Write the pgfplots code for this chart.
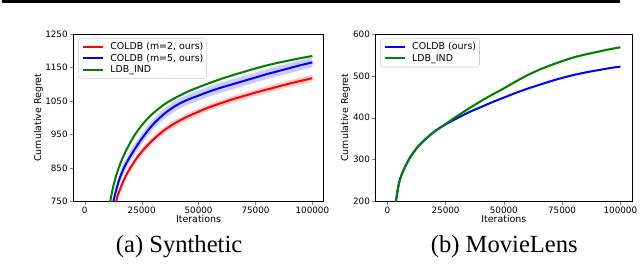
\documentclass[border=0pt]{standalone}
\usepackage{pgfplots}
\pgfplotsset{compat=1.18}
\usepackage{pgfplotstable}
\usepgfplotslibrary{fillbetween}
\usepackage{fontspec}
\setmainfont{Liberation Serif}
\newfontfamily\dv{DejaVu Sans}
\definecolor{mred}{RGB}{255,0,0}
\definecolor{mblue}{RGB}{0,0,255}
\definecolor{mgreen}{RGB}{0,128,0}

% Synthetic
\pgfplotstableread{
x y
10800 736
11200 750
12000 778
13000 808
15000 852
18000 900
22000 949
26000 985
30000 1013
35000 1040
40000 1060
45000 1077
50000 1091
55000 1104
60000 1116
65000 1127
70000 1137
75000 1147
80000 1156
85000 1164
90000 1171
95000 1178
100000 1184
}\synG
\pgfplotstableread{
x y
12100 736
12600 750
13500 776
15000 812
17000 847
20000 885
25000 937
30000 980
35000 1012
40000 1036
45000 1053
50000 1066
55000 1079
60000 1090
65000 1100
70000 1110
75000 1120
80000 1130
85000 1139
90000 1148
95000 1157
100000 1165
}\synB
\pgfplotstableread{
x y
13300 738
13750 750
14500 768
16000 795
18000 826
20000 850
23000 881
26000 906
30000 934
35000 963
40000 985
45000 1003
50000 1018
55000 1032
60000 1044
65000 1055
70000 1065
75000 1075
80000 1084
85000 1093
90000 1102
95000 1110
100000 1118
}\synR
% MovieLens
\pgfplotstableread{
x y
3300 187
3700 200
4300 222
5000 243
6000 262
8000 287
10000 307
13000 330
17000 352
21000 370
25000 384
30000 399
35000 413
40000 425
45000 437
50000 448
55000 459
60000 469
65000 478
70000 487
75000 495
80000 502
85000 508
90000 513
95000 518
100000 522
}\mlB
\pgfplotstableread{
x y
3300 187
3700 200
4300 222
5000 243
6000 262
8000 287
10000 307
13000 330
17000 352
21000 370
25000 385
30000 404
35000 422
40000 439
45000 455
50000 470
55000 486
60000 501
65000 514
70000 525
75000 535
80000 544
85000 551
90000 557
95000 563
100000 568
}\mlG

\pgfplotsset{
  mystyle/.style={
    scale only axis,
    height=126pt,
    xmin=-5000, xmax=105000,
    xtick={0,25000,50000,75000,100000},
    xticklabels={0,25000,50000,75000,100000},
    scaled x ticks=false, scaled y ticks=false,
    tick label style={font=\dv\fontsize{6.6}{8}\selectfont},
    label style={font=\dv\fontsize{7.1}{8.5}\selectfont},
    tick align=outside, major tick length=2.6pt,
    xtick pos=left, ytick pos=left,
    axis line style={line width=0.6pt},
    xticklabel style={inner sep=1.5pt},
    yticklabel style={inner sep=1.5pt},
    legend cell align=left,
    legend style={font=\dv\fontsize{7.1}{8.5}\selectfont, draw=black!20, rounded corners=2pt,
      anchor=north west, inner xsep=2.5pt, inner ysep=3pt, row sep=1.8pt, column sep=5pt,
      nodes={inner sep=0pt, text height=5.3pt, text depth=1.5pt}},
    legend image code/.code={\draw[#1] (0pt,0pt) -- (15pt,0pt);},
  }
}

\begin{document}
\begin{tikzpicture}
\draw[line width=2.3pt, black] (0,198.2pt) -- (465pt,198.2pt);

\begin{axis}[mystyle, name=left,
  at={(54pt,48pt)}, anchor=south west, width=188.25pt,
  ymin=750, ymax=1250, ytick={750,850,950,1050,1150,1250},
  yticklabels={750,850,950,1050,1150,1250},
  xlabel={Iterations}, ylabel={Cumulative Regret},
  xlabel style={at={(axis description cs:0.5,-0.107)}, anchor=center},
  ylabel style={at={(axis description cs:-0.139,0.5)}, anchor=center},
  legend style={at={(0.019,0.974)}},
]
\addplot[name path=ru, draw=none, forget plot, smooth] table[x=x, y expr=\thisrow{y}+10] {\synR};
\addplot[name path=rl, draw=none, forget plot, smooth] table[x=x, y expr=\thisrow{y}-10] {\synR};
\addplot[mred, fill opacity=0.2, forget plot] fill between[of=ru and rl];
\addplot[name path=bu, draw=none, forget plot, smooth] table[x=x, y expr=\thisrow{y}+15] {\synB};
\addplot[name path=bl, draw=none, forget plot, smooth] table[x=x, y expr=\thisrow{y}-15] {\synB};
\addplot[mblue, fill opacity=0.2, forget plot] fill between[of=bu and bl];
\addplot[name path=gu, draw=none, forget plot, smooth] table[x=x, y expr=\thisrow{y}+3] {\synG};
\addplot[name path=gl, draw=none, forget plot, smooth] table[x=x, y expr=\thisrow{y}-3] {\synG};
\addplot[mgreen, fill opacity=0.2, forget plot] fill between[of=gu and gl];
\addplot[mred, line width=1.5pt, smooth] table[x=x,y=y] {\synR};
\addlegendentry{COLDB (m=2, ours)}
\addplot[mblue, line width=1.5pt, smooth] table[x=x,y=y] {\synB};
\addlegendentry{COLDB (m=5, ours)}
\addplot[mgreen, line width=1.5pt, smooth] table[x=x,y=y] {\synG};
\addlegendentry{LDB\textunderscore IND}
\end{axis}

\begin{axis}[mystyle, name=right,
  at={(281.25pt,48pt)}, anchor=south west, width=192.75pt,
  ymin=200, ymax=600, ytick={200,300,400,500,600},
  yticklabels={200,300,400,500,600},
  xlabel={Iterations}, ylabel={Cumulative Regret},
  xlabel style={at={(axis description cs:0.5,-0.107)}, anchor=center},
  ylabel style={at={(axis description cs:-0.117,0.5)}, anchor=center},
  legend style={at={(0.017,0.974)}},
]
\addplot[name path=mbu, draw=none, forget plot, smooth] table[x=x, y expr=\thisrow{y}+2] {\mlB};
\addplot[name path=mbl, draw=none, forget plot, smooth] table[x=x, y expr=\thisrow{y}-2] {\mlB};
\addplot[mblue, fill opacity=0.2, forget plot] fill between[of=mbu and mbl];
\addplot[name path=mgu, draw=none, forget plot, smooth] table[x=x, y expr=\thisrow{y}+3] {\mlG};
\addplot[name path=mgl, draw=none, forget plot, smooth] table[x=x, y expr=\thisrow{y}-3] {\mlG};
\addplot[mgreen, fill opacity=0.2, forget plot] fill between[of=mgu and mgl];
\addplot[mblue, line width=1.5pt, smooth] table[x=x,y=y] {\mlB};
\addlegendentry{COLDB (ours)}
\addplot[mgreen, line width=1.5pt, smooth] table[x=x,y=y] {\mlG};
\addlegendentry{LDB\textunderscore IND}
\end{axis}

\node[anchor=base, font=\fontsize{18.5}{20}\selectfont] at (133.5pt,9.75pt) {(a) Synthetic};
\node[anchor=base, font=\fontsize{18.5}{20}\selectfont] at (378pt,9.75pt) {(b) MovieLens};
\useasboundingbox (0,0) rectangle (480pt,199.5pt);
\end{tikzpicture}
\end{document}
